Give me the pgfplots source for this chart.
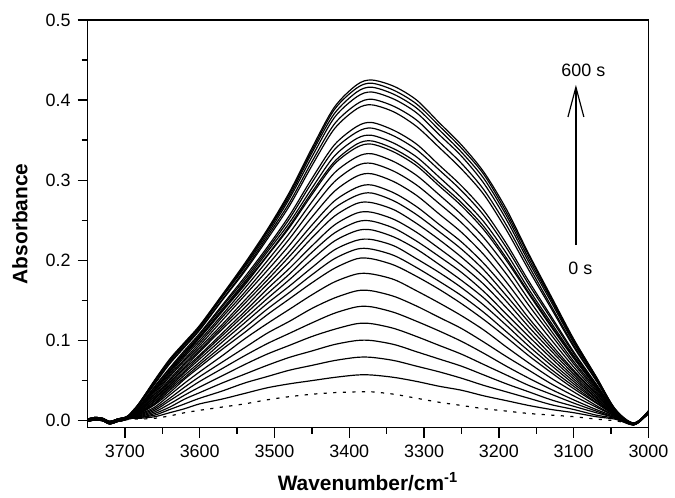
\documentclass[border=0pt]{standalone}
\usepackage{fontspec}
\setmainfont{Liberation Sans}
\usepackage{pgfplots}
\usepackage{pgfplotstable}
\pgfplotsset{compat=1.18}
\usetikzlibrary{arrows.meta}

% IR spectra, 0 s (dashed) ... 600 s; columns c1..c30 are the solid curves
\pgfplotstableread{
x d c1 c2 c3 c4 c5 c6 c7 c8 c9 c10 c11 c12 c13 c14 c15 c16 c17 c18 c19 c20 c21 c22 c23 c24 c25 c26 c27 c28 c29 c30
3750 0.000 0.000 0.001 -0.001 0.002 0.000 0.000 0.001 -0.001 0.002 0.000 0.000 0.001 -0.001 0.002 0.000 0.000 0.001 -0.001 0.002 0.000 0.000 0.001 -0.001 0.002 0.000 0.000 0.001 -0.001 0.002 0.000
3740 0.001 0.002 0.003 0.001 0.004 0.002 0.002 0.003 0.001 0.004 0.002 0.002 0.003 0.001 0.004 0.002 0.002 0.003 0.001 0.004 0.002 0.002 0.003 0.001 0.004 0.002 0.002 0.003 0.001 0.004 0.002
3730 0.000 0.001 0.002 0.000 0.003 0.001 0.001 0.002 0.000 0.003 0.001 0.001 0.002 0.000 0.003 0.001 0.001 0.002 0.000 0.003 0.001 0.001 0.002 0.000 0.003 0.001 0.001 0.002 0.000 0.003 0.001
3720 -0.002 -0.003 -0.002 -0.004 -0.001 -0.003 -0.003 -0.002 -0.004 -0.001 -0.003 -0.003 -0.002 -0.004 -0.001 -0.003 -0.003 -0.002 -0.004 -0.001 -0.003 -0.003 -0.002 -0.004 -0.001 -0.003 -0.003 -0.002 -0.004 -0.001 -0.003
3710 0.000 0.000 0.001 -0.001 0.002 0.000 0.000 0.001 -0.001 0.002 0.000 0.000 0.001 -0.001 0.002 0.000 0.000 0.001 -0.001 0.002 0.000 0.000 0.001 -0.001 0.002 0.000 0.000 0.001 -0.001 0.002 0.000
3700 0.001 0.002 0.003 0.001 0.004 0.002 0.002 0.003 0.001 0.004 0.002 0.002 0.003 0.001 0.004 0.002 0.002 0.003 0.001 0.004 0.002 0.002 0.003 0.001 0.004 0.002 0.002 0.003 0.001 0.004 0.002
3690 0.002 0.003 0.003 0.003 0.003 0.004 0.004 0.004 0.005 0.005 0.005 0.005 0.006 0.006 0.006 0.006 0.007 0.007 0.008 0.008 0.008 0.009 0.009 0.009 0.009 0.010 0.010 0.011 0.011 0.011 0.012
3680 0.002 0.003 0.004 0.004 0.005 0.006 0.007 0.008 0.009 0.009 0.010 0.010 0.011 0.012 0.012 0.013 0.014 0.014 0.015 0.016 0.017 0.017 0.018 0.018 0.019 0.021 0.021 0.022 0.023 0.023 0.023
3660 0.003 0.005 0.007 0.009 0.011 0.013 0.015 0.017 0.020 0.021 0.022 0.024 0.025 0.027 0.028 0.030 0.031 0.033 0.035 0.037 0.038 0.039 0.040 0.042 0.043 0.046 0.047 0.049 0.050 0.050 0.051
3640 0.006 0.010 0.014 0.017 0.021 0.025 0.028 0.032 0.035 0.038 0.040 0.042 0.044 0.046 0.048 0.050 0.052 0.055 0.057 0.059 0.061 0.062 0.063 0.065 0.066 0.071 0.072 0.074 0.075 0.076 0.077
3620 0.010 0.015 0.021 0.027 0.032 0.037 0.042 0.047 0.052 0.054 0.057 0.060 0.062 0.065 0.067 0.070 0.072 0.075 0.077 0.080 0.082 0.083 0.085 0.086 0.088 0.092 0.093 0.095 0.096 0.097 0.098
3600 0.013 0.021 0.028 0.035 0.042 0.049 0.055 0.061 0.067 0.070 0.073 0.077 0.080 0.082 0.086 0.088 0.091 0.094 0.097 0.100 0.103 0.104 0.105 0.107 0.109 0.113 0.114 0.116 0.117 0.118 0.119
3570 0.017 0.027 0.037 0.047 0.056 0.065 0.073 0.081 0.089 0.093 0.098 0.102 0.106 0.109 0.114 0.117 0.120 0.125 0.129 0.132 0.136 0.137 0.139 0.142 0.144 0.150 0.151 0.154 0.155 0.156 0.157
3540 0.021 0.034 0.047 0.058 0.070 0.081 0.091 0.102 0.110 0.116 0.122 0.127 0.132 0.136 0.141 0.146 0.150 0.156 0.160 0.165 0.169 0.171 0.173 0.176 0.179 0.186 0.188 0.191 0.193 0.194 0.196
3510 0.026 0.041 0.055 0.069 0.083 0.096 0.109 0.121 0.132 0.139 0.146 0.152 0.158 0.164 0.170 0.175 0.180 0.187 0.193 0.199 0.205 0.206 0.210 0.213 0.216 0.226 0.229 0.232 0.235 0.236 0.238
3480 0.030 0.046 0.063 0.079 0.094 0.109 0.124 0.139 0.152 0.160 0.168 0.176 0.183 0.190 0.198 0.205 0.211 0.219 0.227 0.234 0.241 0.243 0.247 0.252 0.256 0.268 0.272 0.277 0.280 0.283 0.285
3450 0.033 0.050 0.069 0.087 0.105 0.122 0.140 0.157 0.172 0.182 0.191 0.201 0.210 0.218 0.228 0.236 0.244 0.254 0.264 0.273 0.282 0.285 0.290 0.297 0.302 0.318 0.323 0.329 0.334 0.337 0.340
3420 0.035 0.054 0.075 0.095 0.114 0.134 0.153 0.173 0.190 0.202 0.213 0.224 0.234 0.244 0.255 0.265 0.274 0.286 0.298 0.309 0.320 0.323 0.330 0.338 0.344 0.364 0.370 0.378 0.383 0.388 0.391
3390 0.036 0.057 0.079 0.100 0.121 0.142 0.162 0.183 0.202 0.214 0.225 0.237 0.248 0.259 0.271 0.281 0.291 0.305 0.318 0.329 0.341 0.345 0.352 0.360 0.367 0.389 0.395 0.404 0.410 0.415 0.419
3370 0.036 0.057 0.079 0.100 0.121 0.142 0.162 0.183 0.202 0.214 0.226 0.238 0.249 0.260 0.272 0.284 0.294 0.308 0.321 0.333 0.345 0.349 0.356 0.365 0.372 0.394 0.401 0.410 0.416 0.421 0.425
3340 0.033 0.054 0.075 0.095 0.115 0.135 0.155 0.176 0.194 0.206 0.218 0.229 0.240 0.251 0.263 0.274 0.284 0.298 0.311 0.323 0.335 0.339 0.346 0.355 0.362 0.385 0.392 0.401 0.407 0.412 0.417
3310 0.028 0.049 0.068 0.086 0.105 0.124 0.143 0.162 0.180 0.191 0.202 0.214 0.224 0.235 0.246 0.257 0.267 0.281 0.294 0.306 0.318 0.322 0.329 0.338 0.345 0.367 0.375 0.384 0.390 0.395 0.400
3280 0.023 0.043 0.061 0.077 0.094 0.112 0.129 0.147 0.164 0.174 0.185 0.195 0.205 0.215 0.226 0.236 0.245 0.258 0.271 0.282 0.293 0.297 0.304 0.313 0.319 0.341 0.348 0.357 0.363 0.368 0.372
3250 0.019 0.038 0.053 0.068 0.083 0.099 0.115 0.131 0.146 0.156 0.166 0.175 0.185 0.194 0.204 0.214 0.223 0.235 0.247 0.257 0.268 0.272 0.278 0.287 0.293 0.314 0.321 0.330 0.335 0.340 0.344
3220 0.015 0.031 0.044 0.057 0.070 0.084 0.098 0.113 0.126 0.135 0.144 0.153 0.161 0.170 0.179 0.188 0.196 0.207 0.218 0.228 0.238 0.242 0.248 0.256 0.262 0.282 0.288 0.296 0.302 0.307 0.310
3190 0.012 0.025 0.036 0.046 0.057 0.068 0.080 0.092 0.104 0.111 0.119 0.126 0.133 0.141 0.149 0.156 0.164 0.173 0.183 0.192 0.200 0.203 0.209 0.216 0.221 0.238 0.244 0.251 0.256 0.260 0.264
3160 0.009 0.019 0.028 0.036 0.044 0.053 0.063 0.072 0.081 0.087 0.093 0.099 0.105 0.111 0.117 0.123 0.128 0.136 0.144 0.151 0.158 0.160 0.164 0.170 0.174 0.188 0.193 0.198 0.202 0.206 0.208
3130 0.007 0.014 0.020 0.026 0.033 0.039 0.046 0.053 0.060 0.064 0.069 0.073 0.078 0.082 0.087 0.091 0.095 0.101 0.107 0.112 0.117 0.119 0.122 0.127 0.130 0.140 0.143 0.148 0.151 0.153 0.155
3100 0.005 0.010 0.014 0.018 0.022 0.026 0.031 0.036 0.040 0.043 0.046 0.049 0.052 0.055 0.058 0.061 0.063 0.067 0.071 0.074 0.078 0.079 0.081 0.084 0.086 0.092 0.094 0.097 0.099 0.101 0.102
3070 0.002 0.005 0.007 0.010 0.012 0.014 0.017 0.019 0.022 0.023 0.025 0.026 0.028 0.029 0.031 0.033 0.034 0.036 0.038 0.040 0.042 0.042 0.044 0.045 0.046 0.050 0.051 0.053 0.054 0.055 0.055
3045 0.000 0.002 0.003 0.004 0.004 0.005 0.006 0.006 0.007 0.008 0.008 0.008 0.009 0.009 0.010 0.010 0.010 0.011 0.011 0.012 0.012 0.012 0.013 0.013 0.013 0.014 0.014 0.014 0.015 0.015 0.015
3020 -0.003 -0.004 -0.005 -0.003 -0.004 -0.005 -0.004 -0.005 -0.003 -0.004 -0.005 -0.004 -0.005 -0.003 -0.004 -0.005 -0.004 -0.005 -0.003 -0.004 -0.005 -0.004 -0.005 -0.003 -0.004 -0.005 -0.004 -0.005 -0.003 -0.004 -0.005
3000 0.008 0.010 0.011 0.009 0.012 0.010 0.010 0.011 0.009 0.012 0.010 0.010 0.011 0.009 0.012 0.010 0.010 0.011 0.009 0.012 0.010 0.010 0.011 0.009 0.012 0.010 0.010 0.011 0.009 0.012 0.010
}\spectra

\begin{document}
\begin{tikzpicture}
\begin{axis}[
    scale only axis,
    width=282pt, height=205pt,
    x dir=reverse,
    xmin=3000, xmax=3750,
    ymin=-0.0087, ymax=0.5,
    xtick={3000,3100,...,3700},
    ytick={0,0.1,...,0.5},
    minor x tick num=1,
    minor y tick num=1,
    tick align=outside,
    tick pos=left,
    major tick length=5pt,
    minor tick length=3pt,
    axis line style={line width=0.7pt},
    every tick/.style={black, line width=0.7pt},
    scaled x ticks=false,
    scaled y ticks=false,
    /pgf/number format/assume math mode=true,
    xticklabel style={/pgf/number format/set thousands separator={}},
    yticklabel style={/pgf/number format/.cd, fixed, fixed zerofill, precision=1},
    tick label style={font=\fontsize{9}{10.8}\selectfont},
    xlabel={Wavenumber/cm\textsuperscript{-1}},
    ylabel={Absorbance},
    label style={font=\fontsize{10.5}{12.6}\selectfont\bfseries},
    xlabel style={at={(axis description cs:0.5,-0.1317)}, anchor=center},
    ylabel style={at={(axis description cs:-0.1206,0.5)}, anchor=center},
]
\addplot[black, line width=0.6pt, dash pattern=on 1.6pt off 3.2pt, smooth] table[x=x, y=d] {\spectra};
\pgfplotsinvokeforeach{1,...,30}{
  \addplot[black, line width=0.6pt, smooth] table[x=x, y=c#1] {\spectra};
}
\draw[-{Straight Barb[length=15pt,width=8pt]}, line width=0.6pt] (axis cs:3097,0.219) -- (axis cs:3097,0.419);
\node[font=\fontsize{9}{10.8}\selectfont] at (axis cs:3087,0.437) {600 s};
\node[font=\fontsize{9}{10.8}\selectfont] at (axis cs:3091,0.190) {0 s};
\end{axis}
\path ([shift={(-44pt,-33pt)}]current axis.south west) ([shift={(11.5pt,10pt)}]current axis.north east);
\end{tikzpicture}
\end{document}
